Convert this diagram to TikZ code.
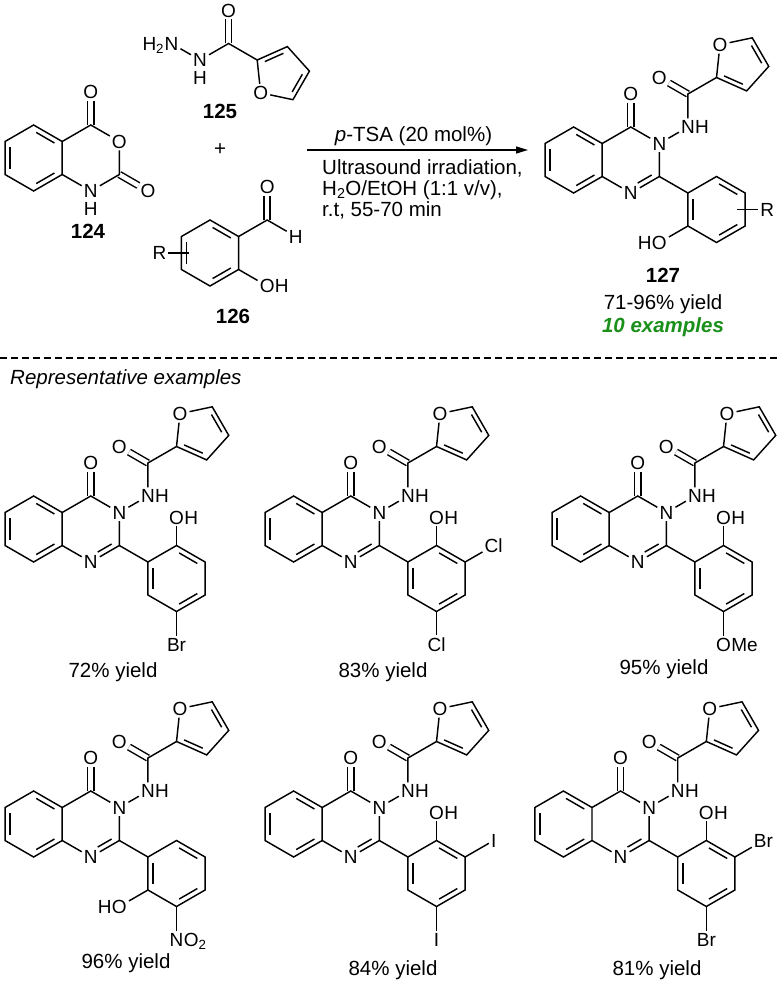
\documentclass[tikz,border=0pt]{standalone}
\usepackage{fontspec}
\setmainfont{Liberation Sans}
\usepackage{tikz}
\usetikzlibrary{positioning}
\usetikzlibrary{calc}
\usetikzlibrary{arrows.meta}
\definecolor{exgreen}{HTML}{1A8F1A}
\newcommand{\atomfont}{\fontsize{19}{22}\selectfont}
\newcommand{\txtfont}{\fontsize{20.5}{24}\selectfont}

\begin{document}
\begin{tikzpicture}[x=1pt, y=-1pt]
    \tikzstyle bond=[line width=1.45pt]
    \tikzstyle innerbond=[bond, shorten <=3pt, shorten >=3pt]
    \tikzstyle dbl=[bond, double, double distance=4.6pt]
    \tikzstyle atom=[inner sep=2pt, font=\atomfont]
    \tikzstyle hright=[atom, anchor=base west, xshift=-4pt]
    \tikzstyle hleft=[atom, anchor=base east, xshift=4pt]
    \tikzstyle txt=[inner sep=0pt, font=\txtfont]
    \tikzstyle num=[inner sep=0pt, font=\txtfont\bfseries]
    \useasboundingbox (0,0) rectangle (779,982);

    % 124
    \begin{scope}[shift={(62.2,141.5)}]
      \coordinate (isa-c4a) at (0,0);
      \coordinate (isa-c5) at (-28.58,-16.5);
      \coordinate (isa-c6) at (-57.16,0);
      \coordinate (isa-c7) at (-57.16,33);
      \coordinate (isa-c8) at (-28.58,49.5);
      \coordinate (isa-c8a) at (0,33);
      \coordinate (isa-bz) at (-28.58,16.5);
      \coordinate (isa-c4) at (28.58,-16.5);
      \coordinate (isa-c2) at (57.16,33);
      \node[atom] (isa-o4) at (28.58,-49.5) {O};
      \node[atom] (isa-o1) at (57.16,0) {O};
      \node[atom] (isa-o2) at (85.74,49.5) {O};
      \node[atom] (isa-n1) at (28.58,49.5) {N};
    \end{scope}
    \node[atom, below=0pt of isa-n1] (isa-h) {H};
    \draw[dbl] (isa-c4) -- (isa-o4);
    \draw[dbl] (isa-c2) -- (isa-o2);
    \draw[bond] (isa-c4a) -- (isa-c5) -- (isa-c6) -- (isa-c7) -- (isa-c8) -- (isa-c8a) -- cycle;
    \draw[bond] (isa-c4a) -- (isa-c4) -- (isa-o1) -- (isa-c2) -- (isa-n1) -- (isa-c8a);
    \draw[innerbond] ($(isa-c5)!.18!(isa-bz)$) -- ($(isa-c4a)!.18!(isa-bz)$);
    \draw[innerbond] ($(isa-c6)!.18!(isa-bz)$) -- ($(isa-c7)!.18!(isa-bz)$);
    \draw[innerbond] ($(isa-c8)!.18!(isa-bz)$) -- ($(isa-c8a)!.18!(isa-bz)$);
    \node[num, anchor=base] (isa-lab) at (88,238) {124};

    % 125
    \node[atom] (hyd-n2) at (171.4,43.5) {N};
    \node[hleft] (hyd-h2) at (hyd-n2.base west) {H\textsubscript{2}};
    \node[atom] (hyd-n1) at (200,60) {N};
    \node[atom, below=0pt of hyd-n1] (hyd-h1) {H};
    \coordinate (hyd-ca) at (228.6,43.5);
    \node[atom] (hyd-o) at (228.6,10.5) {O};
    \coordinate (hyd-f2) at (257.2,60);
    \coordinate (hyd-f3) at (287.35,46.58);
    \coordinate (hyd-f4) at (309.43,71.11);
    \coordinate (hyd-f5) at (292.93,99.68);
    \coordinate (hyd-fc) at (281.51,74.04);
    \node[atom] (hyd-fo) at (260.65,92.82) {O};
    \draw[dbl] (hyd-ca) -- (hyd-o);
    \draw[bond] (hyd-n2) -- (hyd-n1) -- (hyd-ca) -- (hyd-f2);
    \draw[bond] (hyd-f2) -- (hyd-f3) -- (hyd-f4) -- (hyd-f5) -- (hyd-fo) -- (hyd-f2);
    \draw[innerbond] ($(hyd-f2)!.2!(hyd-fc)$) -- ($(hyd-f3)!.2!(hyd-fc)$);
    \draw[innerbond] ($(hyd-f4)!.2!(hyd-fc)$) -- ($(hyd-f5)!.2!(hyd-fc)$);
    \node[num, anchor=base] (hyd-lab) at (220,118) {125};
    \node[txt] (plus) at (220,150) {+};

    % 126
    \coordinate (sal-t) at (210,220);
    \coordinate (sal-ur) at (238.58,236.5);
    \coordinate (sal-lr) at (238.58,269.5);
    \coordinate (sal-b) at (210,286);
    \coordinate (sal-ll) at (181.42,269.5);
    \coordinate (sal-ul) at (181.42,236.5);
    \coordinate (sal-c) at (210,253);
    \coordinate (sal-cho) at (267.16,220);
    \node[atom] (sal-o) at (267.16,187) {O};
    \node[atom] (sal-h) at (295.74,236.5) {H};
    \node[atom] (sal-oh) at (267.16,286) {O};
    \node[hright] (sal-ohh) at (sal-oh.base east) {H};
    \coordinate (sal-rin) at ($(sal-ul)!.5!(sal-ll)+(8,0)$);
    \node[atom] (sal-r) at ($(sal-rin)+(-30,0)$) {R};
    \draw[dbl] (sal-cho) -- (sal-o);
    \draw[bond] (sal-t) -- (sal-ur) -- (sal-lr) -- (sal-b) -- (sal-ll) -- (sal-ul) -- cycle;
    \draw[bond] (sal-ur) -- (sal-cho) -- (sal-h);
    \draw[bond] (sal-lr) -- (sal-oh);
    \draw[bond] (sal-r) -- (sal-rin);
    \draw[innerbond] ($(sal-ul)!.18!(sal-c)$) -- ($(sal-ll)!.18!(sal-c)$);
    \draw[innerbond] ($(sal-t)!.18!(sal-c)$) -- ($(sal-ur)!.18!(sal-c)$);
    \draw[innerbond] ($(sal-lr)!.18!(sal-c)$) -- ($(sal-b)!.18!(sal-c)$);
    \node[num, anchor=base] (sal-lab) at (233,323) {126};

    % arrow and conditions
    \coordinate (arw-a) at (307,150);
    \coordinate (arw-b) at (528,150);
    \draw[line width=1.3pt, -{Triangle[length=12pt, width=7pt]}] (arw-a) -- (arw-b);
    \node[txt, anchor=base] (cat) at (413.5,141) {\textit{p}-TSA (20 mol\%)};
    \node[txt, anchor=base west] (cond1) at (322,174.5) {Ultrasound irradiation,};
    \node[txt, anchor=base west] (cond2) at (322,195) {H\textsubscript{2}O/EtOH (1:1 v/v),};
    \node[txt, anchor=base west] (cond3) at (322,216) {r.t, 55-70 min};

    % quinazolinone cores (127 and examples)
    \foreach \m/\x/\y in {p/602.2/143.5, e1/62.2/512.5, e2/322.2/512.5, e3/609.2/512.5,
                          e4/62.2/807.5, e5/322.2/807.5, e6/592/807.5}{
      \begin{scope}[shift={(\x,\y)}]
        \coordinate (\m-c4a) at (0,0);
        \coordinate (\m-c5) at (-28.58,-16.5);
        \coordinate (\m-c6) at (-57.16,0);
        \coordinate (\m-c7) at (-57.16,33);
        \coordinate (\m-c8) at (-28.58,49.5);
        \coordinate (\m-c8a) at (0,33);
        \coordinate (\m-bz) at (-28.58,16.5);
        \coordinate (\m-c4) at (28.58,-16.5);
        \coordinate (\m-c2) at (57.16,33);
        \coordinate (\m-py) at (28.58,16.5);
        \node[atom] (\m-o4) at (28.58,-49.5) {O};
        \node[atom] (\m-n3) at (57.16,0) {N};
        \node[atom] (\m-n1) at (28.58,49.5) {N};
        \node[atom] (\m-nh) at (85.74,-16.5) {N};
        \node[hright] (\m-nhh) at (\m-nh.base east) {H};
        \coordinate (\m-ca) at (85.74,-49.5);
        \node[atom] (\m-oa) at (57.16,-66) {O};
        \coordinate (\m-f2) at (114.32,-66);
        \coordinate (\m-f3) at (144.47,-52.58);
        \coordinate (\m-f4) at (166.55,-77.11);
        \coordinate (\m-f5) at (150.05,-105.68);
        \coordinate (\m-fc) at (138.63,-80.04);
        \node[atom] (\m-fo) at (117.77,-98.82) {O};
        \coordinate (\m-a1) at (85.74,49.5);
        \coordinate (\m-a2) at (114.32,33);
        \coordinate (\m-a3) at (142.9,49.5);
        \coordinate (\m-a4) at (142.9,82.5);
        \coordinate (\m-a5) at (114.32,99);
        \coordinate (\m-a6) at (85.74,82.5);
        \coordinate (\m-ar) at (114.32,66);
      \end{scope}
      \draw[dbl] (\m-c4) -- (\m-o4);
      \draw[dbl] (\m-ca) -- (\m-oa);
      \draw[bond] (\m-c4a) -- (\m-c5) -- (\m-c6) -- (\m-c7) -- (\m-c8) -- (\m-c8a) -- cycle;
      \draw[bond] (\m-c4a) -- (\m-c4) -- (\m-n3) -- (\m-c2) -- (\m-n1) -- (\m-c8a);
      \draw[bond] (\m-n3) -- (\m-nh) -- (\m-ca) -- (\m-f2);
      \draw[bond] (\m-f2) -- (\m-f3) -- (\m-f4) -- (\m-f5) -- (\m-fo) -- (\m-f2);
      \draw[bond] (\m-c2) -- (\m-a1);
      \draw[bond] (\m-a1) -- (\m-a2) -- (\m-a3) -- (\m-a4) -- (\m-a5) -- (\m-a6) -- cycle;
      \draw[innerbond] ($(\m-c5)!.18!(\m-bz)$) -- ($(\m-c4a)!.18!(\m-bz)$);
      \draw[innerbond] ($(\m-c6)!.18!(\m-bz)$) -- ($(\m-c7)!.18!(\m-bz)$);
      \draw[innerbond] ($(\m-c8)!.18!(\m-bz)$) -- ($(\m-c8a)!.18!(\m-bz)$);
      \draw[innerbond, shorten >=8pt] ($(\m-c2)!.18!(\m-py)$) -- ($(\m-n1)!.18!(\m-py)$);
      \draw[innerbond] ($(\m-f2)!.2!(\m-fc)$) -- ($(\m-f3)!.2!(\m-fc)$);
      \draw[innerbond] ($(\m-f4)!.2!(\m-fc)$) -- ($(\m-f5)!.2!(\m-fc)$);
      \draw[innerbond] ($(\m-a1)!.18!(\m-ar)$) -- ($(\m-a6)!.18!(\m-ar)$);
      \draw[innerbond] ($(\m-a2)!.18!(\m-ar)$) -- ($(\m-a3)!.18!(\m-ar)$);
      \draw[innerbond] ($(\m-a4)!.18!(\m-ar)$) -- ($(\m-a5)!.18!(\m-ar)$);
    }

    % substituents
    \foreach \m in {e1,e2,e3,e5,e6}{
      \node[atom] (\m-oh) at ($(\m-a2)+(0,-28)$) {O};
      \node[hright] (\m-ohh) at (\m-oh.base east) {H};
      \draw[bond] (\m-a2) -- (\m-oh);
    }
    \foreach \m in {p,e4}{
      \node[atom] (\m-oh) at ($(\m-a6)+(-28.58,16.5)$) {O};
      \node[hleft] (\m-ohh) at (\m-oh.base west) {H};
      \draw[bond] (\m-a6) -- (\m-oh);
    }
    \foreach \m/\lab in {e1/Br, e2/Cl, e5/I, e6/Br}{
      \node[atom] (\m-x5) at ($(\m-a5)+(0,33)$) {\lab};
      \draw[bond] (\m-a5) -- (\m-x5);
    }
    \foreach \m/\lab in {e2/Cl, e5/I, e6/Br}{
      \node[atom] (\m-x3) at ($(\m-a3)+(28.58,-16.5)$) {\lab};
      \draw[bond] (\m-a3) -- (\m-x3);
    }
    \node[atom] (e3-o5) at ($(e3-a5)+(0,33)$) {O};
    \node[hright] (e3-me) at (e3-o5.base east) {Me};
    \draw[bond] (e3-a5) -- (e3-o5);
    \node[atom] (e4-n5) at ($(e4-a5)+(0,33)$) {N};
    \node[hright] (e4-no) at (e4-n5.base east) {O\textsubscript{2}};
    \draw[bond] (e4-a5) -- (e4-n5);
    \coordinate (p-rin) at ($(p-a3)!.5!(p-a4)+(-8,0)$);
    \node[atom] (p-r) at ($(p-rin)+(30,0)$) {R};
    \draw[bond] (p-rin) -- (p-r);

    % labels
    \node[num, anchor=base] (p-lab) at (663,282) {127};
    \node[txt, anchor=base] (p-yld) at (663,309) {71-96\% yield};
    \node[txt, anchor=base, text=exgreen, font=\txtfont\bfseries\itshape] (p-ex) at (663,332) {10 examples};
    \draw[line width=1.2pt, dash pattern=on 7pt off 4pt] (0,358) -- (779,358);
    \node[txt, anchor=base west, font=\txtfont\itshape] (rep) at (10,384) {Representative examples};
    \node[txt, anchor=base] (e1-yld) at (113,677) {72\% yield};
    \node[txt, anchor=base] (e2-yld) at (383,677) {83\% yield};
    \node[txt, anchor=base] (e3-yld) at (664,674) {95\% yield};
    \node[txt, anchor=base] (e4-yld) at (126,968) {96\% yield};
    \node[txt, anchor=base] (e5-yld) at (393,975) {84\% yield};
    \node[txt, anchor=base] (e6-yld) at (657,975) {81\% yield};
\end{tikzpicture}
\end{document}
